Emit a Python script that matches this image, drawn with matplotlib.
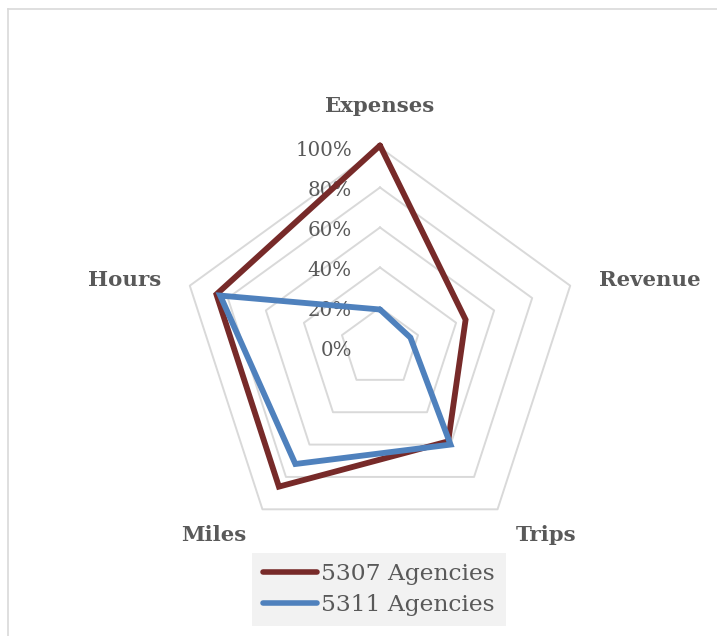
import numpy as np
import matplotlib
matplotlib.use("Agg")
import matplotlib.pyplot as plt
from matplotlib.lines import Line2D

categories = ["Expenses", "Revenue", "Trips", "Miles", "Hours"]
series_names = ["5307 Agencies", "5311 Agencies"]
values_5307 = [1.01, 0.45, 0.58, 0.86, 0.86]
values_5311 = [0.19, 0.16, 0.60, 0.72, 0.84]
tick_values = [0.0, 0.2, 0.4, 0.6, 0.8, 1.0]
tick_labels = ["0%", "20%", "40%", "60%", "80%", "100%"]

colors = ["#772a29", "#4f81bd"]
text_color = "#595959"
grid_color = "#d9d9d9"
serif = ["DejaVu Serif"]

W, H = 717, 636
fig = plt.figure(figsize=(W / 100, H / 100), dpi=100)
fig.patch.set_facecolor("white")

# frame lines (top and left)
fig.add_artist(Line2D([8 / W, 1.0], [1 - 9 / H, 1 - 9 / H], transform=fig.transFigure,
                      color=grid_color, lw=1.2))
fig.add_artist(Line2D([8 / W, 8 / W], [0.0, 1 - 9 / H], transform=fig.transFigure,
                      color=grid_color, lw=1.2))

cx, cy, R = 380, 347.5, 1.1
rad = 200 * R
ax = fig.add_axes([(cx - rad) / W, (H - cy - rad) / H, 2 * rad / W, 2 * rad / H],
                  projection="polar")
ax.set_theta_offset(np.pi / 2)
ax.set_theta_direction(-1)
ax.set_ylim(0, R)
ax.grid(False)
ax.set_xticks([])
ax.set_yticks([])
ax.spines["polar"].set_visible(False)
ax.patch.set_alpha(0)

n = len(categories)
theta = np.arange(n) * 2 * np.pi / n
theta_c = np.append(theta, theta[0])

# pentagon gridlines
for tv in tick_values[1:]:
    ax.plot(theta_c, [tv] * (n + 1), color=grid_color, lw=1.4, zorder=1)

# data series
for vals, name, col in zip([values_5307, values_5311], series_names, colors):
    v = np.append(vals, vals[0])
    ax.plot(theta_c, v, color=col, lw=4.2, label=name, zorder=3, clip_on=False,
            solid_joinstyle="miter", solid_capstyle="round")

# radial tick labels
for tv, tl in zip(tick_values, tick_labels):
    ax.annotate(tl, xy=(0, tv), xytext=(-28, -3), textcoords="offset pixels",
                ha="right", va="center", fontsize=14.3, color=text_color,
                family=serif, zorder=2, annotation_clip=False)

# category labels
offsets = {"Expenses": (0, 36), "Revenue": (80, 0), "Trips": (49, -32),
           "Miles": (-49, -32), "Hours": (-65, 0)}
for t, c in zip(theta, categories):
    ax.annotate(c, xy=(t, 1.0), xytext=offsets[c], textcoords="offset pixels",
                ha="center", va="baseline", fontsize=15.3, fontweight="bold",
                color=text_color, family=serif, annotation_clip=False)

leg = fig.legend(loc="center", bbox_to_anchor=(379 / W, 1 - 589.5 / H),
                 frameon=True, fancybox=False, facecolor="#f2f2f2", edgecolor="none",
                 framealpha=1, prop={"family": serif, "size": 16.8},
                 handlelength=2.3, handletextpad=0.2, labelspacing=0.38,
                 borderpad=0.45, borderaxespad=0)
for txt in leg.get_texts():
    txt.set_color(text_color)
for lh in leg.get_lines():
    lh.set_linewidth(4)
    lh.set_solid_capstyle("round")

fig.savefig("out.png", dpi=100)
